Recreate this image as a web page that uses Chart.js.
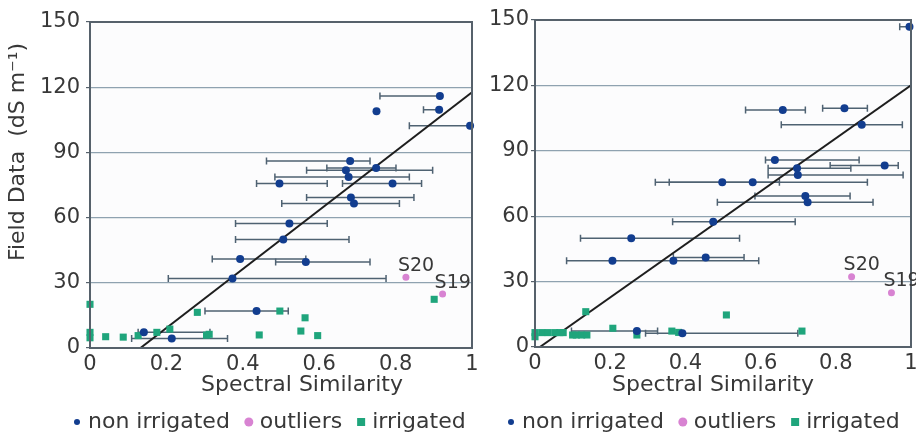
<!DOCTYPE html>
<html>
<head>
<meta charset="utf-8">
<script src="https://cdn.jsdelivr.net/npm/chart.js@4.4.1/dist/chart.umd.min.js"></script>
<style>
  html, body { margin: 0; padding: 0; background: #fff; }
  #wrap { position: relative; width: 916px; height: 438px; overflow: hidden; }
  .panel { position: absolute; top: 0; height: 438px; }
  #left { left: 0; width: 480px; }
  #right { left: 480px; width: 436px; }
</style>
</head>
<body>
<div id="wrap">
  <div class="panel" id="left"><canvas id="leftChart"></canvas></div>
  <div class="panel" id="right"><canvas id="rightChart"></canvas></div>
</div>
<script>
// tick labels + legend
const xTickLabels = ['0', '0.2', '0.4', '0.6', '0.8', '1'];
const yTickLabels = ['0', '30', '60', '90', '120', '150'];
const seriesNames = ['non irrigated', 'outliers', 'irrigated'];

// left panel - non irrigated (with x error range lo..hi)
const leftNonX  = [0.916, 0.914, 0.750, 0.995, 0.681, 0.749, 0.670, 0.677, 0.496, 0.792, 0.683, 0.691, 0.522, 0.506, 0.393, 0.565, 0.373, 0.436, 0.141, 0.214];
const leftNonY  = [115.9, 109.6, 108.9, 102.3, 86.0, 82.8, 81.8, 78.7, 75.7, 75.7, 69.2, 66.5, 57.3, 49.9, 41.0, 39.6, 32.0, 17.0, 7.2, 4.4];
const leftNonLo = [0.759, 0.873, null, 0.836, 0.462, 0.620, 0.567, 0.484, 0.436, 0.661, 0.567, 0.502, 0.381, 0.381, 0.320, 0.486, 0.205, 0.301, 0.126, 0.109];
const leftNonHi = [0.916, 0.914, null, 0.995, 0.733, 0.801, 0.897, 0.836, 0.621, 0.868, 0.848, 0.810, 0.621, 0.678, 0.565, 0.733, 0.775, 0.519, 0.314, 0.360];
// left panel - outliers
const leftOutX = [0.827, 0.923];
const leftOutY = [32.5, 24.8];
const leftOutNames = ['S20', 'S19'];
// left panel - irrigated
const leftIrrX = [0, 0.281, 0.497, 0.563, 0.901, 0, 0, 0.041, 0.087, 0.126, 0.175, 0.209, 0.312, 0.305, 0.443, 0.552, 0.596];
const leftIrrY = [20.1, 16.4, 17.0, 13.9, 22.4, 7.2, 4.7, 5.2, 5.0, 5.7, 7.2, 8.7, 6.3, 5.9, 6.0, 7.8, 5.7];
// left panel - fitted line
const leftFitX = [0.132, 1];
const leftFitY = [0, 117.7];

// right panel - non irrigated
const rightNonX  = [0.996, 0.659, 0.823, 0.869, 0.638, 0.930, 0.697, 0.699, 0.498, 0.579, 0.719, 0.725, 0.474, 0.256, 0.206, 0.368, 0.454, 0.271, 0.392];
const rightNonY  = [146.9, 108.7, 109.5, 102.0, 85.8, 83.3, 82.0, 78.9, 75.6, 75.6, 69.3, 66.4, 57.5, 49.9, 39.6, 39.6, 41.0, 7.3, 6.3];
const rightNonLo = [0.970, 0.560, 0.765, 0.655, 0.613, 0.785, 0.620, 0.620, 0.320, 0.357, 0.585, 0.485, 0.366, 0.121, 0.084, null, 0.368, 0.097, 0.294];
const rightNonHi = [0.996, 0.719, 0.884, 0.977, 0.862, 0.966, 0.840, 0.979, 0.650, 0.884, 0.838, 0.899, 0.692, 0.544, 0.595, null, 0.556, 0.326, 0.699];
// right panel - outliers
const rightOutX = [0.842, 0.948];
const rightOutY = [32.2, 24.9];
const rightOutNames = ['S20', 'S19'];
// right panel - irrigated
const rightIrrX = [0.135, 0.207, 0.509, 0.710, 0, 0, 0.018, 0.035, 0.053, 0.066, 0.075, 0.100, 0.110, 0.124, 0.138, 0.271, 0.364, 0.382];
const rightIrrY = [16.2, 8.6, 14.7, 7.3, 6.6, 4.7, 6.6, 6.6, 6.6, 6.6, 6.6, 5.5, 5.5, 5.5, 5.5, 5.5, 7.3, 6.7];
// right panel - fitted line
const rightFitX = [0.013, 1];
const rightFitY = [0, 120];

const BLUE = '#123d8f';
const PINK = '#d883d2';
const GREEN = '#1fa57c';
const ERR = '#4f6272';
const GRID = '#8fa2b0';
const TEXT = '#383838';
const FONT = 'DejaVu Sans';

const pts = (xs, ys) => xs.map((v, i) => ({ x: v, y: ys[i] }));

function extras(p) {
  return {
    id: 'extras',
    beforeDraw(chart) {
      const { ctx, chartArea: a } = chart;
      ctx.save();
      ctx.fillStyle = '#fcfcfd';
      ctx.fillRect(a.left, a.top, a.right - a.left, a.bottom - a.top);
      ctx.restore();
    },
    beforeDatasetsDraw(chart) {
      const { ctx, scales: { x, y } } = chart;
      ctx.save();
      ctx.strokeStyle = ERR;
      ctx.lineWidth = 1.5;
      p.lo.forEach((lo, i) => {
        if (lo === null) return;
        const yy = y.getPixelForValue(p.ny[i]);
        const x0 = x.getPixelForValue(lo);
        const x1 = x.getPixelForValue(p.hi[i]);
        ctx.beginPath();
        ctx.moveTo(x0, yy); ctx.lineTo(x1, yy);
        ctx.moveTo(x0, yy - 3.5); ctx.lineTo(x0, yy + 3.5);
        ctx.moveTo(x1, yy - 3.5); ctx.lineTo(x1, yy + 3.5);
        ctx.stroke();
      });
      ctx.restore();
    },
    afterDraw(chart) {
      const { ctx, chartArea: a, scales: { x, y } } = chart;
      ctx.save();
      // frame
      ctx.strokeStyle = '#56616b';
      ctx.lineWidth = 2;
      ctx.strokeRect(a.left, a.top, a.right - a.left, a.bottom - a.top);

      ctx.fillStyle = TEXT;
      // outlier names
      ctx.font = '19px ' + FONT;
      ctx.textAlign = 'left';
      ctx.textBaseline = 'bottom';
      p.outNames.forEach((s, i) => {
        ctx.fillText(s, x.getPixelForValue(p.ox[i]) - 8, y.getPixelForValue(p.oy[i]) - 2);
      });

      // x title
      ctx.font = '22px ' + FONT;
      ctx.textAlign = 'center';
      ctx.textBaseline = 'middle';
      ctx.fillText('Spectral Similarity', p.xTitleX, 385);

      // y title
      if (p.yTitle) {
        ctx.save();
        ctx.translate(18, 152);
        ctx.rotate(-Math.PI / 2);
        ctx.font = '22px ' + FONT;
        ctx.fillText('Field Data  (dS m\u207B\u00B9)', 0, 0);
        ctx.restore();
      }

      // legend
      const marks = [
        { c: BLUE, kind: 'dot', r: 3 },
        { c: PINK, kind: 'dot', r: 4.5 },
        { c: GREEN, kind: 'sq', r: 4 }
      ];
      ctx.font = '22px ' + FONT;
      ctx.textAlign = 'left';
      ctx.textBaseline = 'middle';
      let cx = p.legendX;
      const ly = 422;
      seriesNames.forEach((name, i) => {
        const m = marks[i];
        ctx.fillStyle = m.c;
        if (m.kind === 'dot') {
          ctx.beginPath();
          ctx.arc(cx + 7, ly, m.r, 0, Math.PI * 2);
          ctx.fill();
        } else {
          ctx.fillRect(cx + 7 - m.r, ly - m.r, m.r * 2, m.r * 2);
        }
        ctx.fillStyle = TEXT;
        ctx.fillText(name, cx + 18, ly);
        cx += 18 + ctx.measureText(name).width + 12;
      });
      ctx.restore();
    }
  };
}

function makePanel(id, p) {
  return new Chart(document.getElementById(id), {
    type: 'scatter',
    data: {
      datasets: [
        {
          label: seriesNames[0],
          data: pts(p.nx, p.ny),
          pointStyle: 'circle',
          pointRadius: 4,
          backgroundColor: BLUE,
          borderColor: BLUE,
          borderWidth: 0,
          clip: false
        },
        {
          label: seriesNames[1],
          data: pts(p.ox, p.oy),
          pointStyle: 'circle',
          pointRadius: 3.5,
          backgroundColor: PINK,
          borderColor: PINK,
          borderWidth: 0,
          clip: false
        },
        {
          label: seriesNames[2],
          data: pts(p.ix, p.iy),
          pointStyle: 'rect',
          pointRadius: 5,
          backgroundColor: GREEN,
          borderColor: GREEN,
          borderWidth: 0,
          clip: false
        },
        {
          label: 'fit',
          type: 'line',
          data: pts(p.fx, p.fy),
          borderColor: '#1e1e1e',
          borderWidth: 2,
          pointRadius: 0,
          fill: false
        }
      ]
    },
    options: {
      responsive: true,
      maintainAspectRatio: false,
      animation: false,
      events: [],
      layout: { padding: p.padding },
      plugins: {
        legend: { display: false },
        tooltip: { enabled: false }
      },
      scales: {
        x: {
          type: 'linear',
          min: 0,
          max: 1,
          border: { display: false },
          grid: { display: false, drawTicks: false },
          ticks: {
            stepSize: 0.2,
            padding: 4,
            color: TEXT,
            font: { family: FONT, size: 21 },
            maxRotation: 0,
            callback: (v, i) => xTickLabels[i]
          },
          afterFit: s => { s.height = 28; s.paddingLeft = 0; s.paddingRight = 0; }
        },
        y: {
          min: 0,
          max: 150,
          border: { display: false },
          grid: {
            color: c => (c.tick.value === 0 || c.tick.value === 150) ? 'rgba(0,0,0,0)' : GRID,
            lineWidth: 1.2,
            tickLength: 4,
            tickColor: '#56616b'
          },
          ticks: {
            stepSize: 30,
            padding: p.yTickPad,
            color: TEXT,
            font: { family: FONT, size: 21 },
            callback: (v, i) => yTickLabels[i]
          },
          afterFit: s => { s.width = p.yWidth; }
        }
      }
    },
    plugins: [extras(p)]
  });
}

makePanel('leftChart', {
  nx: leftNonX, ny: leftNonY, lo: leftNonLo, hi: leftNonHi,
  ox: leftOutX, oy: leftOutY, outNames: leftOutNames,
  ix: leftIrrX, iy: leftIrrY,
  fx: leftFitX, fy: leftFitY,
  padding: { top: 22, left: 0, right: 8, bottom: 62 },
  yWidth: 90, yTickPad: 6,
  yTitle: true, xTitleX: 302, legendX: 70
});

makePanel('rightChart', {
  nx: rightNonX, ny: rightNonY, lo: rightNonLo, hi: rightNonHi,
  ox: rightOutX, oy: rightOutY, outNames: rightOutNames,
  ix: rightIrrX, iy: rightIrrY,
  fx: rightFitX, fy: rightFitY,
  padding: { top: 20, left: 0, right: 3, bottom: 63 },
  yWidth: 55, yTickPad: 2,
  yTitle: false, xTitleX: 233, legendX: 24
});
</script>
</body>
</html>
